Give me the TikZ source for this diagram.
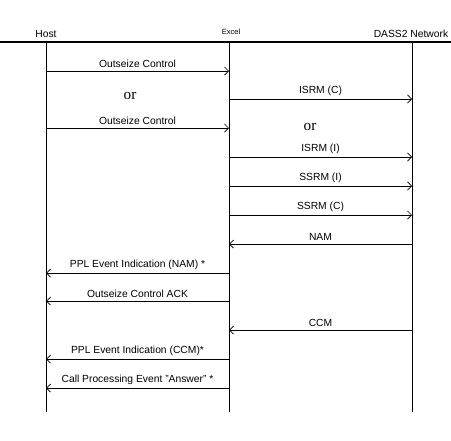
\documentclass[tikz,border=0pt]{standalone}
\usepackage{fontspec}
\setmainfont{Liberation Serif}
\setsansfont{Liberation Sans}
\usetikzlibrary{arrows.meta}

\begin{document}
\begin{tikzpicture}[x=0.03cm,y=-0.03cm,line width=0.6pt,
  msg/.style={-{Straight Barb[length=3.5pt,width=7pt]}},
  lbl/.style={font=\sffamily\fontsize{8.8}{10}\selectfont,inner sep=1.5pt},
  orlbl/.style={font=\fontsize{13}{15}\selectfont}]
\useasboundingbox (0,0) rectangle (451,440);

\node[lbl] (host) at (46,34) {Host};
\node[lbl,font=\sffamily\fontsize{6.4}{8}\selectfont] (excel) at (231,32) {Excel};
\node[lbl] (net) at (411,34) {DASS2 Network};

\coordinate (l0) at (0,42);
\coordinate (l1) at (451,42);
\coordinate (h0) at (46,42);
\coordinate (hz) at (46,412);
\coordinate (e0) at (229,42);
\coordinate (ez) at (229,412);
\coordinate (n0) at (412,42);
\coordinate (nz) at (412,412);

\draw[line width=0.9pt] (l0) -- (l1);
\draw (h0) -- (hz);
\draw (e0) -- (ez);
\draw (n0) -- (nz);

\coordinate (h1) at (46,71);   \coordinate (e1) at (229,71);
\coordinate (e2) at (229,99);  \coordinate (n2) at (412,99);
\coordinate (h3) at (46,128);  \coordinate (e3) at (229,128);
\coordinate (e4) at (229,157); \coordinate (n4) at (412,157);
\coordinate (e5) at (229,186); \coordinate (n5) at (412,186);
\coordinate (e6) at (229,215); \coordinate (n6) at (412,215);
\coordinate (e7) at (229,244); \coordinate (n7) at (412,244);
\coordinate (h8) at (46,273);  \coordinate (e8) at (229,273);
\coordinate (h9) at (46,301);  \coordinate (e9) at (229,301);
\coordinate (e10) at (229,330); \coordinate (n10) at (412,330);
\coordinate (h11) at (46,359); \coordinate (e11) at (229,359);
\coordinate (h12) at (46,388); \coordinate (e12) at (229,388);

\draw[msg] (h1) -- node[lbl,above=1.5pt] {Outseize Control} (e1);
\node[orlbl] (or1) at (130,96) {or};
\draw[msg] (e2) -- node[lbl,above=1.5pt] {ISRM (C)} (n2);
\draw[msg] (h3) -- node[lbl,above=1.5pt] {Outseize Control} (e3);
\node[orlbl] (or2) at (310,127) {or};
\draw[msg] (e4) -- node[lbl,above=1.5pt] {ISRM (I)} (n4);
\draw[msg] (e5) -- node[lbl,above=1.5pt] {SSRM (I)} (n5);
\draw[msg] (e6) -- node[lbl,above=1.5pt] {SSRM (C)} (n6);
\draw[msg] (n7) -- node[lbl,above=1.5pt] {NAM} (e7);
\draw[msg] (e8) -- node[lbl,above=1.5pt] {PPL Event Indication (NAM) *} (h8);
\draw[msg] (e9) -- node[lbl,above=1.5pt] {Outseize Control ACK} (h9);
\draw[msg] (n10) -- node[lbl,above=1.5pt] {CCM} (e10);
\draw[msg] (e11) -- node[lbl,above=1.5pt] {PPL Event Indication (CCM)*} (h11);
\draw[msg] (e12) -- node[lbl,above=1.5pt] {Call Processing Event "Answer" *} (h12);

\end{tikzpicture}
\end{document}
